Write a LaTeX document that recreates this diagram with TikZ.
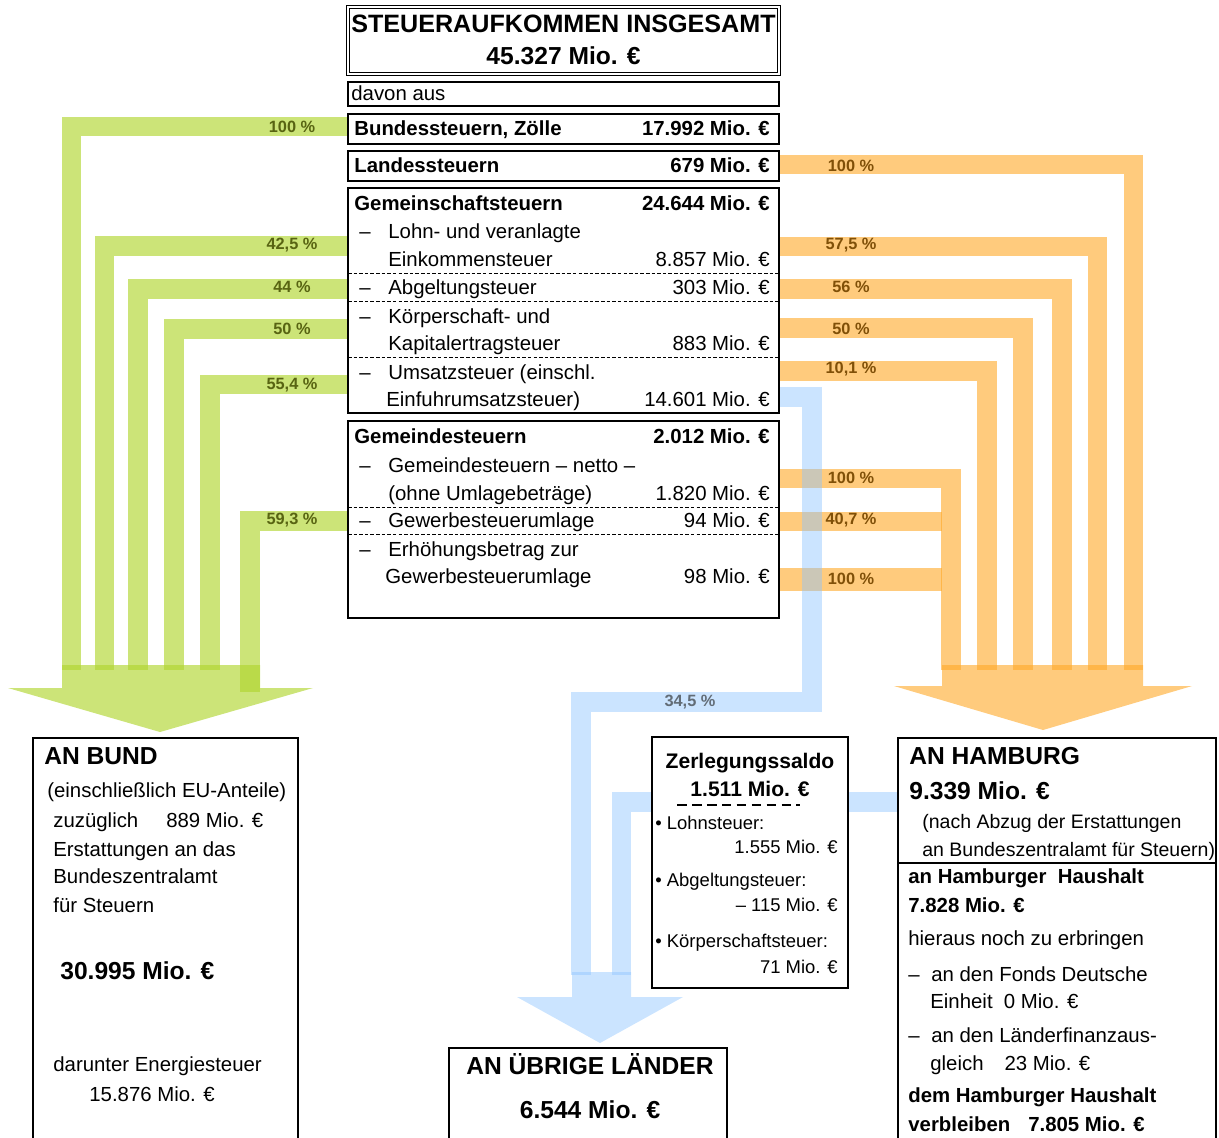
\documentclass[tikz,border=0pt]{standalone}
\usepackage{fontspec}
\setmainfont{Liberation Sans}
\usetikzlibrary{fit}

\definecolor{bundgreen}{RGB}{176,213,48}
\definecolor{hhorange}{RGB}{255,168,38}
\definecolor{landblue}{RGB}{140,195,255}
\definecolor{bundtext}{RGB}{88,100,18}
\definecolor{hhtext}{RGB}{128,80,8}
\definecolor{landtext}{RGB}{98,108,118}

\newcommand{\rowfont}{\fontsize{11.6}{13}\selectfont}
\newcommand{\bigfont}{\bfseries\fontsize{14}{16}\selectfont}

\begin{document}
\begin{tikzpicture}[x=0.02cm,y=-0.02cm]
    \tikzset{box/.style = {draw,line width=1.1pt,fill=white,inner sep=0pt}}
    \tikzset{txt/.style = {anchor=west,inner sep=0pt,font=\rowfont,text height=8.2pt,text depth=0.8pt}}
    \tikzset{val/.style = {txt,anchor=east}}
    \tikzset{hd/.style = {txt,font=\bfseries\rowfont}}
    \tikzset{hdval/.style = {hd,anchor=east}}
    \tikzset{big/.style = {txt,font=\bigfont,text height=10pt}}
    \tikzset{zl/.style = {txt,font=\fontsize{10.5}{12}\selectfont,text height=7.5pt}}
    \tikzset{sep/.style = {line width=0.5pt,dash pattern=on 2pt off 1.2pt}}
    \tikzset{flow/.style = {line width=0.39cm,opacity=0.65}}
    \tikzset{gbar/.style = {flow,draw=bundgreen}}
    \tikzset{obar/.style = {flow,draw=hhorange,opacity=0.6}}
    \tikzset{bbar/.style = {flow,draw=landblue,opacity=0.45}}
    \tikzset{pct/.style = {inner sep=0pt,font=\bfseries\fontsize{9.3}{11}\selectfont}}
    \useasboundingbox (0,0) rectangle (1219,1137);

    % flow ends
    \coordinate (gs1) at (348,126.5);  \coordinate (ge1) at (71.5,670);
    \coordinate (gs2) at (348,246);    \coordinate (ge2) at (104.5,670);
    \coordinate (gs3) at (348,289);    \coordinate (ge3) at (138,670);
    \coordinate (gs4) at (348,329);    \coordinate (ge4) at (174,670);
    \coordinate (gs5) at (348,384.5);  \coordinate (ge5) at (210,670);
    \coordinate (gs6) at (348,521);    \coordinate (ge6) at (250,692);
    \coordinate (os1) at (779,164.5);  \coordinate (oe1) at (1133.5,670);
    \coordinate (os2) at (779,246.5);  \coordinate (oe2) at (1097.5,670);
    \coordinate (os3) at (779,289);    \coordinate (oe3) at (1062,670);
    \coordinate (os4) at (779,328);    \coordinate (oe4) at (1023,670);
    \coordinate (os5) at (779,371);    \coordinate (oe5) at (987,670);
    \coordinate (os6) at (779,478.5);  \coordinate (oe6) at (951,670);
    \coordinate (os7) at (779,521.5);  \coordinate (oe7) at (942,521.5);
    \coordinate (os8) at (779,579);    \coordinate (oe8) at (942,579);
    \coordinate (bs1) at (779,397);    \coordinate (bk1) at (812,702);
    \coordinate (be1) at (581,975);
    \coordinate (bs2) at (898,802);    \coordinate (be2) at (621.5,975);

    % flows
    \draw[gbar] (gs1) -| (ge1);
    \draw[gbar] (gs2) -| (ge2);
    \draw[gbar] (gs3) -| (ge3);
    \draw[gbar] (gs4) -| (ge4);
    \draw[gbar] (gs5) -| (ge5);
    \draw[gbar] (gs6) -| (ge6);
    \draw[obar] (os1) -| (oe1);
    \draw[obar] (os2) -| (oe2);
    \draw[obar] (os3) -| (oe3);
    \draw[obar] (os4) -| (oe4);
    \draw[obar] (os5) -| (oe5);
    \draw[obar] (os6) -| (oe6);
    \draw[obar] (os7) -- (oe7);
    \draw[obar,line width=0.46cm] (os8) -- (oe8);
    \draw[bbar] (bs1) -| (bk1) -| (be1);
    \draw[bbar] (bs2) -| (be2);

    % big arrows
    \fill[bundgreen,opacity=0.65] (62,665) -- (260,665) -- (260,688) -- (313,688)
        -- (160,732) -- (8,688) -- (62,688) -- cycle;
    \fill[hhorange,opacity=0.6] (942,665) -- (1143,665) -- (1143,686) -- (1192,686)
        -- (1043,730) -- (894,686) -- (942,686) -- cycle;
    \fill[landblue,opacity=0.45] (572,972) -- (631,972) -- (631,997) -- (683,997)
        -- (600,1043) -- (517,997) -- (572,997) -- cycle;

    % boxes
    \node[fit={(348,7) (779,74)},draw,double,double distance=1.6pt,line width=0.5pt,inner sep=0pt] (total) {};
    \node[fit={(348,82) (779,106)},draw,line width=0.6pt,inner sep=0pt] (davon) {};
    \node[box,fit={(348,114) (779,144)}] (bst) {};
    \node[box,fit={(348,151) (779,181)}] (lst) {};
    \node[box,fit={(348,188) (779,413)}] (gem) {};
    \node[box,fit={(348,421) (779,618)}] (gde) {};
    \node[box,fit={(33,738) (298,1150)}] (bund) {};
    \node[box,fit={(652,737) (848,988)}] (zer) {};
    \node[box,fit={(898,738) (1216,1150)}] (hh) {};
    \node[box,fit={(449,1048) (727,1150)}] (ubl) {};
    \draw[sep] (348,273) -- (779,273);
    \draw[sep] (348,301) -- (779,301);
    \draw[sep] (348,357) -- (779,357);
    \draw[sep] (348,507) -- (779,507);
    \draw[sep] (348,534) -- (779,534);
    \draw[line width=0.8pt] (898,863) -- (1216,863);
    \draw[line width=1.3pt,dash pattern=on 5.5pt off 3pt] (677,805) -- (800,805);

    % top column
    \node[big,anchor=center,font=\bfseries\fontsize{14.3}{16}\selectfont] (ttl) at (563.5,24) {STEUERAUFKOMMEN INSGESAMT};
    \node[big,anchor=center] (ttlv) at (563.5,56) {45.327 Mio. €};
    \node[txt] (dav) at (351,94) {davon aus};
    \node[hd] (bstt) at (354,129) {Bundessteuern, Zölle};
    \node[hdval] (bstv) at (770,129) {17.992 Mio. €};
    \node[hd] (lstt) at (354,166) {Landessteuern};
    \node[hdval] (lstv) at (770,166) {679 Mio. €};
    \node[hd] (gemt) at (354,204) {Gemeinschaftsteuern};
    \node[hdval] (gemv) at (770,204) {24.644 Mio. €};
    \node[txt] (est1) at (359,232) {\makebox[0.58cm][l]{–}Lohn- und veranlagte};
    \node[txt] (est2) at (388,260) {Einkommensteuer};
    \node[val] (estv) at (770,260) {8.857 Mio. €};
    \node[txt] (abg) at (359,288) {\makebox[0.58cm][l]{–}Abgeltungsteuer};
    \node[val] (abgv) at (770,288) {303 Mio. €};
    \node[txt] (kst1) at (359,317) {\makebox[0.58cm][l]{–}Körperschaft- und};
    \node[txt] (kst2) at (388,344) {Kapitalertragsteuer};
    \node[val] (kstv) at (770,344) {883 Mio. €};
    \node[txt] (ust1) at (359,373) {\makebox[0.58cm][l]{–}Umsatzsteuer (einschl.};
    \node[txt] (ust2) at (386,400) {Einfuhrumsatzsteuer)};
    \node[val] (ustv) at (770,400) {14.601 Mio. €};
    \node[hd] (gdet) at (354,437) {Gemeindesteuern};
    \node[hdval] (gdev) at (770,437) {2.012 Mio. €};
    \node[txt] (net1) at (359,466) {\makebox[0.58cm][l]{–}Gemeindesteuern – netto –};
    \node[txt] (net2) at (388,494) {(ohne Umlagebeträge)};
    \node[val] (netv) at (770,494) {1.820 Mio. €};
    \node[txt] (gwu) at (359,521) {\makebox[0.58cm][l]{–}Gewerbesteuerumlage};
    \node[val] (gwuv) at (770,521) {94 Mio. €};
    \node[txt] (erh1) at (359,550) {\makebox[0.58cm][l]{–}Erhöhungsbetrag zur};
    \node[txt] (erh2) at (385,577) {Gewerbesteuerumlage};
    \node[val] (erhv) at (770,577) {98 Mio. €};

    % percentages
    \node[pct,text=bundtext] (pg1) at (292,127) {100 \%};
    \node[pct,text=bundtext] (pg2) at (292,245) {42,5 \%};
    \node[pct,text=bundtext] (pg3) at (292,287) {44 \%};
    \node[pct,text=bundtext] (pg4) at (292,329) {50 \%};
    \node[pct,text=bundtext] (pg5) at (292,385) {55,4 \%};
    \node[pct,text=bundtext] (pg6) at (292,520) {59,3 \%};
    \node[pct,text=hhtext] (po1) at (851,166) {100 \%};
    \node[pct,text=hhtext] (po2) at (851,245) {57,5 \%};
    \node[pct,text=hhtext] (po3) at (851,287) {56 \%};
    \node[pct,text=hhtext] (po4) at (851,329) {50 \%};
    \node[pct,text=hhtext] (po5) at (851,369) {10,1 \%};
    \node[pct,text=hhtext] (po6) at (851,478) {100 \%};
    \node[pct,text=hhtext] (po7) at (851,520) {40,7 \%};
    \node[pct,text=hhtext] (po8) at (851,579) {100 \%};
    \node[pct,text=landtext] (pb1) at (690,702) {34,5 \%};

    % an Bund
    \node[big] (bundt) at (44,756) {AN BUND};
    \node[txt] (bund1) at (47,791) {(einschließlich EU-Anteile)};
    \node[txt] (bund2) at (53,821) {zuzüglich\hspace{0.56cm}889 Mio. €};
    \node[txt] (bund3) at (53,850) {Erstattungen an das};
    \node[txt] (bund4) at (53,877) {Bundeszentralamt};
    \node[txt] (bund5) at (53,906) {für Steuern};
    \node[big] (bundv) at (60,971) {30.995 Mio. €};
    \node[txt] (bund6) at (53,1065) {darunter Energiesteuer};
    \node[txt] (bund7) at (89,1095) {15.876 Mio. €};

    % Zerlegung
    \node[big,anchor=center,font=\bfseries\fontsize{12}{14}\selectfont] (zert) at (750,760) {Zerlegungssaldo};
    \node[big,anchor=center,font=\bfseries\fontsize{12}{14}\selectfont] (zerv) at (750,788) {1.511 Mio. €};
    \node[zl] (zer1) at (655,824) {• Lohnsteuer:};
    \node[zl,anchor=east] (zer1v) at (838,848) {1.555 Mio. €};
    \node[zl] (zer2) at (655,881) {• Abgeltungsteuer:};
    \node[zl,anchor=east] (zer2v) at (838,906) {– 115 Mio. €};
    \node[zl] (zer3) at (655,942) {• Körperschaftsteuer:};
    \node[zl,anchor=east] (zer3v) at (838,968) {71 Mio. €};

    % an Hamburg
    \node[big] (hht) at (909,756) {AN HAMBURG};
    \node[big] (hhv) at (909,791) {9.339 Mio. €};
    \node[txt,font=\fontsize{11.1}{13}\selectfont] (hh1) at (922,822) {(nach Abzug der Erstattungen};
    \node[txt,font=\fontsize{11.1}{13}\selectfont] (hh2) at (922,850) {an Bundeszentralamt für Steuern)};
    \node[hd] (hh3) at (908,877) {an Hamburger\ \ Haushalt};
    \node[hd] (hh4) at (908,906) {7.828 Mio. €};
    \node[txt] (hh5) at (908,939) {hieraus noch zu erbringen};
    \node[txt] (hh6) at (908,975) {\makebox[0.46cm][l]{–}an den Fonds Deutsche};
    \node[txt] (hh7) at (930,1002) {Einheit\ \ 0 Mio. €};
    \node[txt] (hh8) at (908,1036) {\makebox[0.46cm][l]{–}an den Länderfinanzaus-};
    \node[txt] (hh9) at (930,1064) {gleich\hspace{0.42cm}23 Mio. €};
    \node[hd] (hh10) at (908,1096) {dem Hamburger Haushalt};
    \node[hd] (hh11) at (908,1125) {verbleiben\hspace{0.36cm}7.805 Mio. €};

    % an uebrige Laender
    \node[big,anchor=center] (ublt) at (590,1066) {AN ÜBRIGE LÄNDER};
    \node[big,anchor=center] (ublv) at (590,1110) {6.544 Mio. €};
\end{tikzpicture}
\end{document}
